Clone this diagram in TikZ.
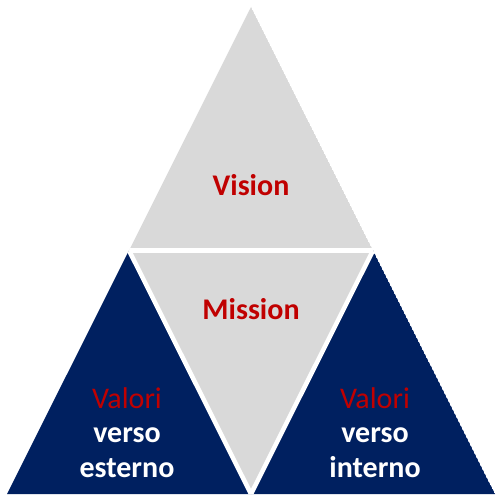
\documentclass[tikz,border=0pt]{standalone}
\usepackage{fontspec}
\usetikzlibrary{calc}
\setmainfont{Carlito}
\definecolor{triGray}{HTML}{D9D9D9}
\definecolor{triBlue}{HTML}{002060}
\definecolor{txtRed}{HTML}{C00000}
\tikzset{
  lbl/.style={font=\bfseries\fontsize{30}{34.5}\selectfont, align=center, anchor=base, inner sep=0pt},
  gap/.style={draw=white, line width=4.5pt}
}
\newcommand{\valred}{{\mdseries\color{txtRed}Valori}}
\begin{document}
\begin{tikzpicture}[x=1pt,y=1pt]
\useasboundingbox (0,0) rectangle (502,498);
\coordinate (A) at (251,491);
\coordinate (BL) at (7,4);
\coordinate (BR) at (495,4);
\coordinate (ML) at (129,247.5);
\coordinate (MR) at (373,247.5);
\coordinate (MB) at (251,4);
\begin{scope}
\clip (A) -- (BL) -- (BR) -- cycle;
\fill[triGray] (A) -- (ML) -- (MR) -- cycle;
\fill[triGray] (ML) -- (MR) -- (MB) -- cycle;
\fill[triBlue] (ML) -- (BL) -- (MB) -- cycle;
\fill[triBlue] (MR) -- (MB) -- (BR) -- cycle;
\draw[gap] ($(ML)!-0.1!(MR)$) -- ($(MR)!-0.1!(ML)$);
\draw[gap] ($(ML)!-0.1!(MB)$) -- ($(MB)!-0.1!(ML)$);
\draw[gap] ($(MR)!-0.1!(MB)$) -- ($(MB)!-0.1!(MR)$);
\end{scope}
\node[lbl, text=txtRed] (vision) at (251,302) {Vision};
\node[lbl, text=txtRed] (mission) at (251,179) {Mission};
\node[lbl, text=white] (vest) at (127,21) {\valred\\verso\\esterno};
\node[lbl, text=white] (vint) at (375,21) {\valred\\verso\\interno};
\end{tikzpicture}
\end{document}
